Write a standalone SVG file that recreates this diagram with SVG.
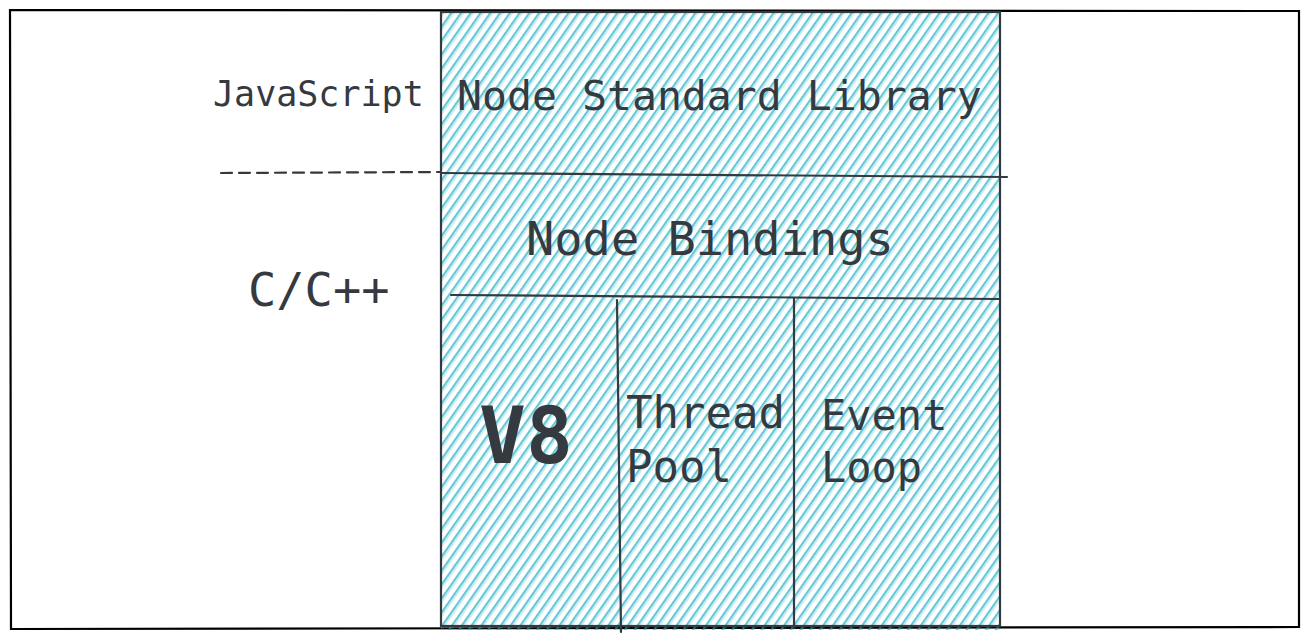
<svg xmlns="http://www.w3.org/2000/svg" width="1309" height="643" viewBox="0 0 1309 643">
<style>
.t{font-family:"DejaVu Sans Mono","Liberation Mono",monospace;fill:#343a40}
.ln{stroke:#343a40;stroke-width:2.2;fill:none;stroke-linecap:round}
</style>
<defs>
<pattern id="hatch" patternUnits="userSpaceOnUse" width="8" height="20" patternTransform="rotate(35)">
<line x1="1" y1="-2" x2="1" y2="22" stroke="#15aabf" stroke-width="1.3"/>
<line x1="3" y1="-2" x2="3" y2="22" stroke="#15aabf" stroke-width="0.8" opacity="0.55"/>
</pattern>
</defs>
<rect width="1309" height="643" fill="#ffffff"/>
<g id="frame">
<path d="M10 10 L1299 11 L1299 627 L11 629 Z" fill="none" stroke="#000" stroke-width="2.2"/>
</g>
<g id="stack">
<rect x="441" y="12" width="559" height="618" fill="url(#hatch)"/>
<rect x="441" y="12" width="559" height="614" class="ln"/>
</g>
<g id="connectors">
<line x1="221" y1="173" x2="441" y2="172" class="ln" stroke-dasharray="11 7"/>
<path d="M441 173 L1007 177" class="ln"/>
<path d="M451 295 L1000 299" class="ln"/>
<path d="M617 300 L621 632" class="ln"/>
<path d="M794 298 L794 627" class="ln"/>
</g>
<g id="js-label"><text class="t" x="213" y="106" font-size="35">JavaScript</text></g>
<g id="cpp-label"><text class="t" x="248" y="306" font-size="47">C/C++</text></g>
<g id="node-std"><text class="t" x="457" y="110" font-size="41.5">Node Standard Library</text></g>
<g id="node-bindings"><text class="t" x="526" y="255" font-size="47">Node Bindings</text></g>
<g id="v8"><text class="t" x="479" y="463" font-size="78" font-weight="bold">V8</text></g>
<g id="thread-pool"><text class="t" x="626" y="428" font-size="44">Thread<tspan x="626" y="482">Pool</tspan></text></g>
<g id="event-loop"><text class="t" x="821" y="430" font-size="42">Event<tspan x="821" y="482">Loop</tspan></text></g>
</svg>
